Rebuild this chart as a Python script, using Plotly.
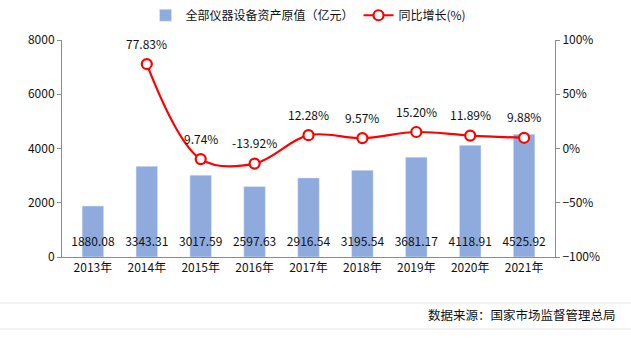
import plotly.graph_objects as go

years = ["2013年", "2014年", "2015年", "2016年", "2017年", "2018年", "2019年", "2020年", "2021年"]
asset_value = [1880.08, 3343.31, 3017.59, 2597.63, 2916.54, 3195.54, 3681.17, 4118.91, 4525.92]
growth_pct = [None, 77.83, -9.74, -13.92, 12.28, 9.57, 15.20, 11.89, 9.88]
growth_labels = [None, "77.83%", "9.74%", "-13.92%", "12.28%", "9.57%", "15.20%", "11.89%", "9.88%"]

FONT = "Noto Sans CJK SC, Microsoft YaHei, sans-serif"
AXIS_GREY = "#8c8c8c"

fig = go.Figure()

fig.add_trace(go.Bar(
    x=years, y=asset_value, name="全部仪器设备资产原值（亿元）",
    marker=dict(color="#8faadc"), width=0.4, hoverinfo="x+y",
))

# value labels sitting near the base of each bar
fig.add_trace(go.Scatter(
    x=years, y=[500] * len(years), mode="text",
    text=[f"{v:.2f}" for v in asset_value],
    textfont=dict(size=12, color="#111111", family=FONT),
    showlegend=False, hoverinfo="skip",
))

fig.add_trace(go.Scatter(
    x=years, y=growth_pct, name="同比增长(%)", yaxis="y2",
    mode="lines+markers", line=dict(color="#ff0000", width=2.2, shape="spline", smoothing=1.0),
    marker=dict(size=10, color="white", line=dict(color="#ff0000", width=2.2)),
    connectgaps=False,
))

for yr, g, lab in zip(years, growth_pct, growth_labels):
    if g is None:
        continue
    fig.add_annotation(
        x=yr, y=g, yref="y2", text=lab, showarrow=False, yshift=21,
        font=dict(size=12, color="#111111", family=FONT),
    )

# footer separators and data source
for py in (-0.212, -0.332):
    fig.add_shape(type="line", xref="paper", yref="paper", x0=-0.13, x1=1.16, y0=py, y1=py,
                  line=dict(color="#ececec", width=1.5))
fig.add_annotation(
    xref="paper", yref="paper", x=1.128, y=-0.263, xanchor="right", yanchor="middle",
    text="数据来源：国家市场监督管理总局", showarrow=False,
    font=dict(size=12.5, color="#111111", family=FONT),
)

fig.update_layout(
    width=631, height=339,
    margin=dict(l=62, r=76, t=40, b=82, autoexpand=False),
    paper_bgcolor="white", plot_bgcolor="white",
    font=dict(family=FONT, size=12, color="#111111"),
    bargap=0.6,
    legend=dict(orientation="h", x=0.5, xanchor="center", yref="container", y=0.955,
                yanchor="middle", font=dict(size=12, family=FONT),
                bgcolor="rgba(0,0,0,0)"),
    xaxis=dict(showline=True, linecolor=AXIS_GREY, linewidth=1, ticks="", showgrid=False,
               tickfont=dict(size=12)),
    yaxis=dict(range=[0, 8000], dtick=2000, showline=True, linecolor=AXIS_GREY, linewidth=1,
               ticks="outside", ticklen=4, tickcolor=AXIS_GREY, showgrid=False, zeroline=False,
               tickfont=dict(size=12)),
    yaxis2=dict(range=[-100, 100], dtick=50, overlaying="y", side="right", ticksuffix="%",
                showline=True, linecolor=AXIS_GREY, linewidth=1, ticks="outside", ticklen=4,
                tickcolor=AXIS_GREY, showgrid=False, zeroline=False, tickfont=dict(size=12)),
)

fig.write_html("out.html")
